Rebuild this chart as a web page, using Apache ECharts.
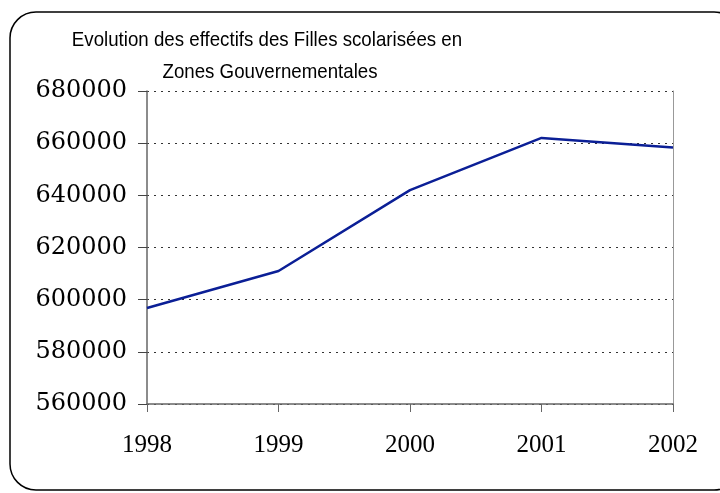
<!DOCTYPE html>
<html>
<head>
<meta charset="utf-8">
<script src="https://cdn.jsdelivr.net/npm/echarts@6/dist/echarts.min.js"></script>
<style>html,body{margin:0;padding:0;background:#fff}#c{width:720px;height:493px}</style>
</head>
<body>
<div id="c"></div>
<script>
const titleLines = ['Evolution des effectifs des Filles scolarisées en', 'Zones Gouvernementales'];
const years = ['1998', '1999', '2000', '2001', '2002'];
const effectifs = [596800, 611000, 642000, 662000, 658300];
const yMin = 560000, yMax = 680000, yStep = 20000;

const chart = echarts.init(document.getElementById('c'), null, {renderer: 'canvas'});
chart.setOption({
  animation: false,
  backgroundColor: '#fff',
  graphic: [
    {type: 'rect', shape: {x: 10, y: 12, width: 730, height: 478, r: 26},
     style: {fill: 'none', stroke: '#000', lineWidth: 1.5}, z: 0},
    {type: 'text', x: 267, y: 40, scaleX: 0.89,
     style: {text: titleLines[0], font: '21px "Liberation Sans", Arial, sans-serif', fill: '#000', align: 'center', verticalAlign: 'middle'}},
    {type: 'text', x: 270, y: 72, scaleX: 0.89,
     style: {text: titleLines[1], font: '21px "Liberation Sans", Arial, sans-serif', fill: '#000', align: 'center', verticalAlign: 'middle'}}
  ],
  grid: {left: 147, right: 47, top: 91, bottom: 89, containLabel: false},
  xAxis: {
    type: 'category', data: years, boundaryGap: false,
    axisLine: {lineStyle: {color: '#666', width: 1.5}},
    axisTick: {show: true, length: 8, lineStyle: {color: '#666', width: 1}},
    axisLabel: {color: '#000', fontFamily: '"Liberation Serif", serif', fontSize: 25, margin: 29},
    splitLine: {show: false}
  },
  yAxis: [{
    type: 'value', min: yMin, max: yMax, interval: yStep,
    axisLine: {show: true, lineStyle: {color: '#666', width: 1.5}},
    axisTick: {show: true, length: 9, lineStyle: {color: '#444', width: 1}},
    axisLabel: {color: '#000', fontFamily: '"DejaVu Serif", serif', fontSize: 24, margin: 20,
      padding: [0, 0, 8, 0], formatter: v => String(v)},
    splitLine: {show: true, lineStyle: {color: '#333', type: [2, 5], width: 1}}
  }, {
    type: 'value', min: yMin, max: yMax, interval: yStep, position: 'right',
    axisLine: {show: true, lineStyle: {color: '#999', width: 1}},
    axisTick: {show: false}, axisLabel: {show: false}, splitLine: {show: false}
  }],
  series: [{
    type: 'line', data: effectifs, yAxisIndex: 0,
    symbol: 'none',
    lineStyle: {color: '#0b1f96', width: 2.5}
  }]
});
</script>
</body>
</html>
